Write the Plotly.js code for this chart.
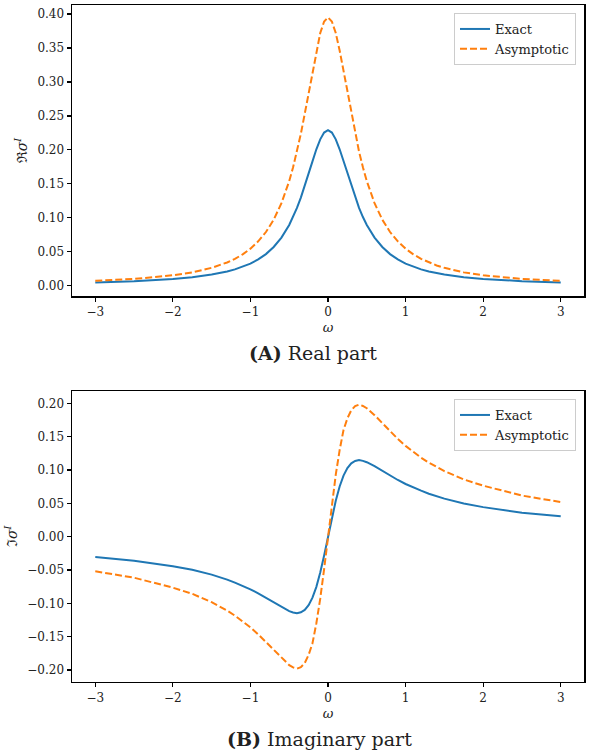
<!DOCTYPE html>
<html>
<head>
<meta charset="utf-8">
<script src="https://cdn.plot.ly/plotly-3.0.1.min.js"></script>
<style>html,body{margin:0;padding:0;background:#fff;}#chart{width:589px;height:752px;}</style>
</head>
<body>
<div id="chart"></div>
<script>
// omega grid
const omega = [-3, -2.5, -2, -1.75, -1.5, -1.4, -1.3, -1.2, -1.1, -1, -0.9, -0.8, -0.7, -0.6, -0.5, -0.45, -0.4, -0.35, -0.3, -0.25, -0.2, -0.15, -0.1, -0.05, 0,
               0.05, 0.1, 0.15, 0.2, 0.25, 0.3, 0.35, 0.4, 0.45, 0.5, 0.6, 0.7, 0.8, 0.9, 1, 1.1, 1.2, 1.3, 1.4, 1.5, 1.75, 2, 2.5, 3];

// (A) Real part
const reExact = [0.0045, 0.0066, 0.0100, 0.0125, 0.0165, 0.0184, 0.0208, 0.0240, 0.0278, 0.0325, 0.0388, 0.0465, 0.0570, 0.0708, 0.0894, 0.1011, 0.1145, 0.1297, 0.1466, 0.1647, 0.1830, 0.2008, 0.2155, 0.2255, 0.2290,
                 0.2255, 0.2155, 0.2008, 0.1830, 0.1647, 0.1466, 0.1297, 0.1145, 0.1011, 0.0894, 0.0708, 0.0570, 0.0465, 0.0388, 0.0325, 0.0278, 0.0240, 0.0208, 0.0184, 0.0165, 0.0125, 0.0100, 0.0066, 0.0045];
const reAsym = [0.0072, 0.0099, 0.0153, 0.0196, 0.0263, 0.0298, 0.0342, 0.0395, 0.0461, 0.0545, 0.0653, 0.0790, 0.0972, 0.1215, 0.1540, 0.1743, 0.1975, 0.2237, 0.2530, 0.2840, 0.3160, 0.3463, 0.3720, 0.3890, 0.3950,
                0.3890, 0.3720, 0.3463, 0.3160, 0.2840, 0.2530, 0.2237, 0.1975, 0.1743, 0.1540, 0.1215, 0.0972, 0.0790, 0.0653, 0.0545, 0.0461, 0.0395, 0.0342, 0.0298, 0.0263, 0.0196, 0.0153, 0.0099, 0.0072];

// (B) Imaginary part
const imExact = [-0.0305, -0.0360, -0.0443, -0.0498, -0.0570, -0.0605, -0.0644, -0.0690, -0.0737, -0.0790, -0.0850, -0.0916, -0.0986, -0.1057, -0.1117, -0.1137, -0.1150, -0.1135, -0.1100, -0.1029, -0.0916, -0.0753, -0.0539, -0.0282, 0,
                 0.0282, 0.0539, 0.0753, 0.0916, 0.1029, 0.1100, 0.1135, 0.1150, 0.1137, 0.1117, 0.1057, 0.0986, 0.0916, 0.0850, 0.0790, 0.0737, 0.0690, 0.0644, 0.0605, 0.0570, 0.0498, 0.0443, 0.0360, 0.0305];
const imAsym = [-0.0520, -0.0616, -0.0765, -0.0858, -0.0983, -0.1043, -0.1110, -0.1185, -0.1269, -0.1362, -0.1466, -0.1580, -0.1700, -0.1823, -0.1927, -0.1961, -0.1980, -0.1958, -0.1896, -0.1775, -0.1600, -0.1299, -0.0930, -0.0486, 0,
                0.0486, 0.0930, 0.1299, 0.1600, 0.1775, 0.1896, 0.1958, 0.1980, 0.1961, 0.1927, 0.1823, 0.1700, 0.1580, 0.1466, 0.1362, 0.1269, 0.1185, 0.1110, 0.1043, 0.0983, 0.0858, 0.0765, 0.0616, 0.0520];

const xTicks = [-3, -2, -1, 0, 1, 2, 3];
const reTicks = [0, 0.05, 0.10, 0.15, 0.20, 0.25, 0.30, 0.35, 0.40];
const imTicks = [-0.20, -0.15, -0.10, -0.05, 0, 0.05, 0.10, 0.15, 0.20];
const seriesNames = ['Exact', 'Asymptotic'];
const captions = ['<b>(A)</b> Real part', '<b>(B)</b> Imaginary part'];

const FONT = 'DejaVu Serif, Liberation Serif, serif';
const blue = '#1f77b4', orange = '#ff7f0e';

const lineExact = {color: blue, width: 2, shape: 'linear'};
const lineAsym = {color: orange, width: 2, dash: '7px,3px', shape: 'linear'};

const traces = [
  {x: omega, y: reExact, name: seriesNames[0], mode: 'lines', line: lineExact, xaxis: 'x', yaxis: 'y', legend: 'legend'},
  {x: omega, y: reAsym, name: seriesNames[1], mode: 'lines', line: lineAsym, xaxis: 'x', yaxis: 'y', legend: 'legend'},
  {x: omega, y: imExact, name: seriesNames[0], mode: 'lines', line: lineExact, xaxis: 'x2', yaxis: 'y2', legend: 'legend2'},
  {x: omega, y: imAsym, name: seriesNames[1], mode: 'lines', line: lineAsym, xaxis: 'x2', yaxis: 'y2', legend: 'legend2'}
];

const axBase = {
  showline: true, mirror: true, linecolor: '#000', linewidth: 1.5,
  ticks: 'outside', ticklen: 4, tickwidth: 1.2, tickcolor: '#000',
  showgrid: false, zeroline: false,
  tickfont: {family: FONT, size: 12, color: '#222'}
};

const xAx = (anchor) => Object.assign({}, axBase, {
  domain: [72/589, 584/589], anchor: anchor, range: [-3.3, 3.3],
  tickmode: 'array', tickvals: xTicks, ticktext: xTicks.map(v => v < 0 ? '\u2212' + Math.abs(v) : String(v)),
  title: {text: '<i>ω</i>', font: {family: FONT, size: 13, color: '#222'}, standoff: 5}
});

const legendBase = {
  xanchor: 'right', yanchor: 'top', x: 576/589,
  bgcolor: 'rgba(255,255,255,0.8)', bordercolor: '#cccccc', borderwidth: 1,
  font: {family: FONT, size: 13, color: '#222'}, tracegroupgap: 0
};

const layout = {
  width: 589, height: 752,
  margin: {l: 0, r: 0, t: 0, b: 0},
  paper_bgcolor: '#fff', plot_bgcolor: '#fff',
  font: {family: FONT, color: '#222'},
  xaxis: xAx('y'),
  xaxis2: xAx('y2'),
  yaxis: Object.assign({}, axBase, {
    domain: [1 - 296/752, 1 - 5/752], anchor: 'x', range: [-0.0152, 0.4133],
    tickmode: 'array', tickvals: reTicks, ticktext: reTicks.map(v => v.toFixed(2)),
    title: {text: 'ℜ<i>σ</i><sup><i>I</i></sup>', font: {family: FONT, size: 14, color: '#222'}, standoff: 6}
  }),
  yaxis2: Object.assign({}, axBase, {
    domain: [1 - 681.7/752, 1 - 391/752], anchor: 'x2', range: [-0.2176, 0.2185],
    tickmode: 'array', tickvals: imTicks, ticktext: imTicks.map(v => (v < 0 ? '\u2212' : '') + Math.abs(v).toFixed(2)),
    title: {text: 'ℑ<i>σ</i><sup><i>I</i></sup>', font: {family: FONT, size: 14, color: '#222'}, standoff: 6}
  }),
  legend: Object.assign({}, legendBase, {y: 1 - 13/752}),
  legend2: Object.assign({}, legendBase, {y: 1 - 399/752}),
  annotations: [
    {text: captions[0], xref: 'paper', yref: 'paper', x: 313/589, y: 1 - 353/752, xanchor: 'center', yanchor: 'middle', showarrow: false, font: {family: FONT, size: 19, color: '#222'}},
    {text: captions[1], xref: 'paper', yref: 'paper', x: 319/589, y: 1 - 739/752, xanchor: 'center', yanchor: 'middle', showarrow: false, font: {family: FONT, size: 19, color: '#222'}}
  ]
};

Plotly.newPlot('chart', traces, layout, {displayModeBar: false, staticPlot: true});
</script>
</body>
</html>
